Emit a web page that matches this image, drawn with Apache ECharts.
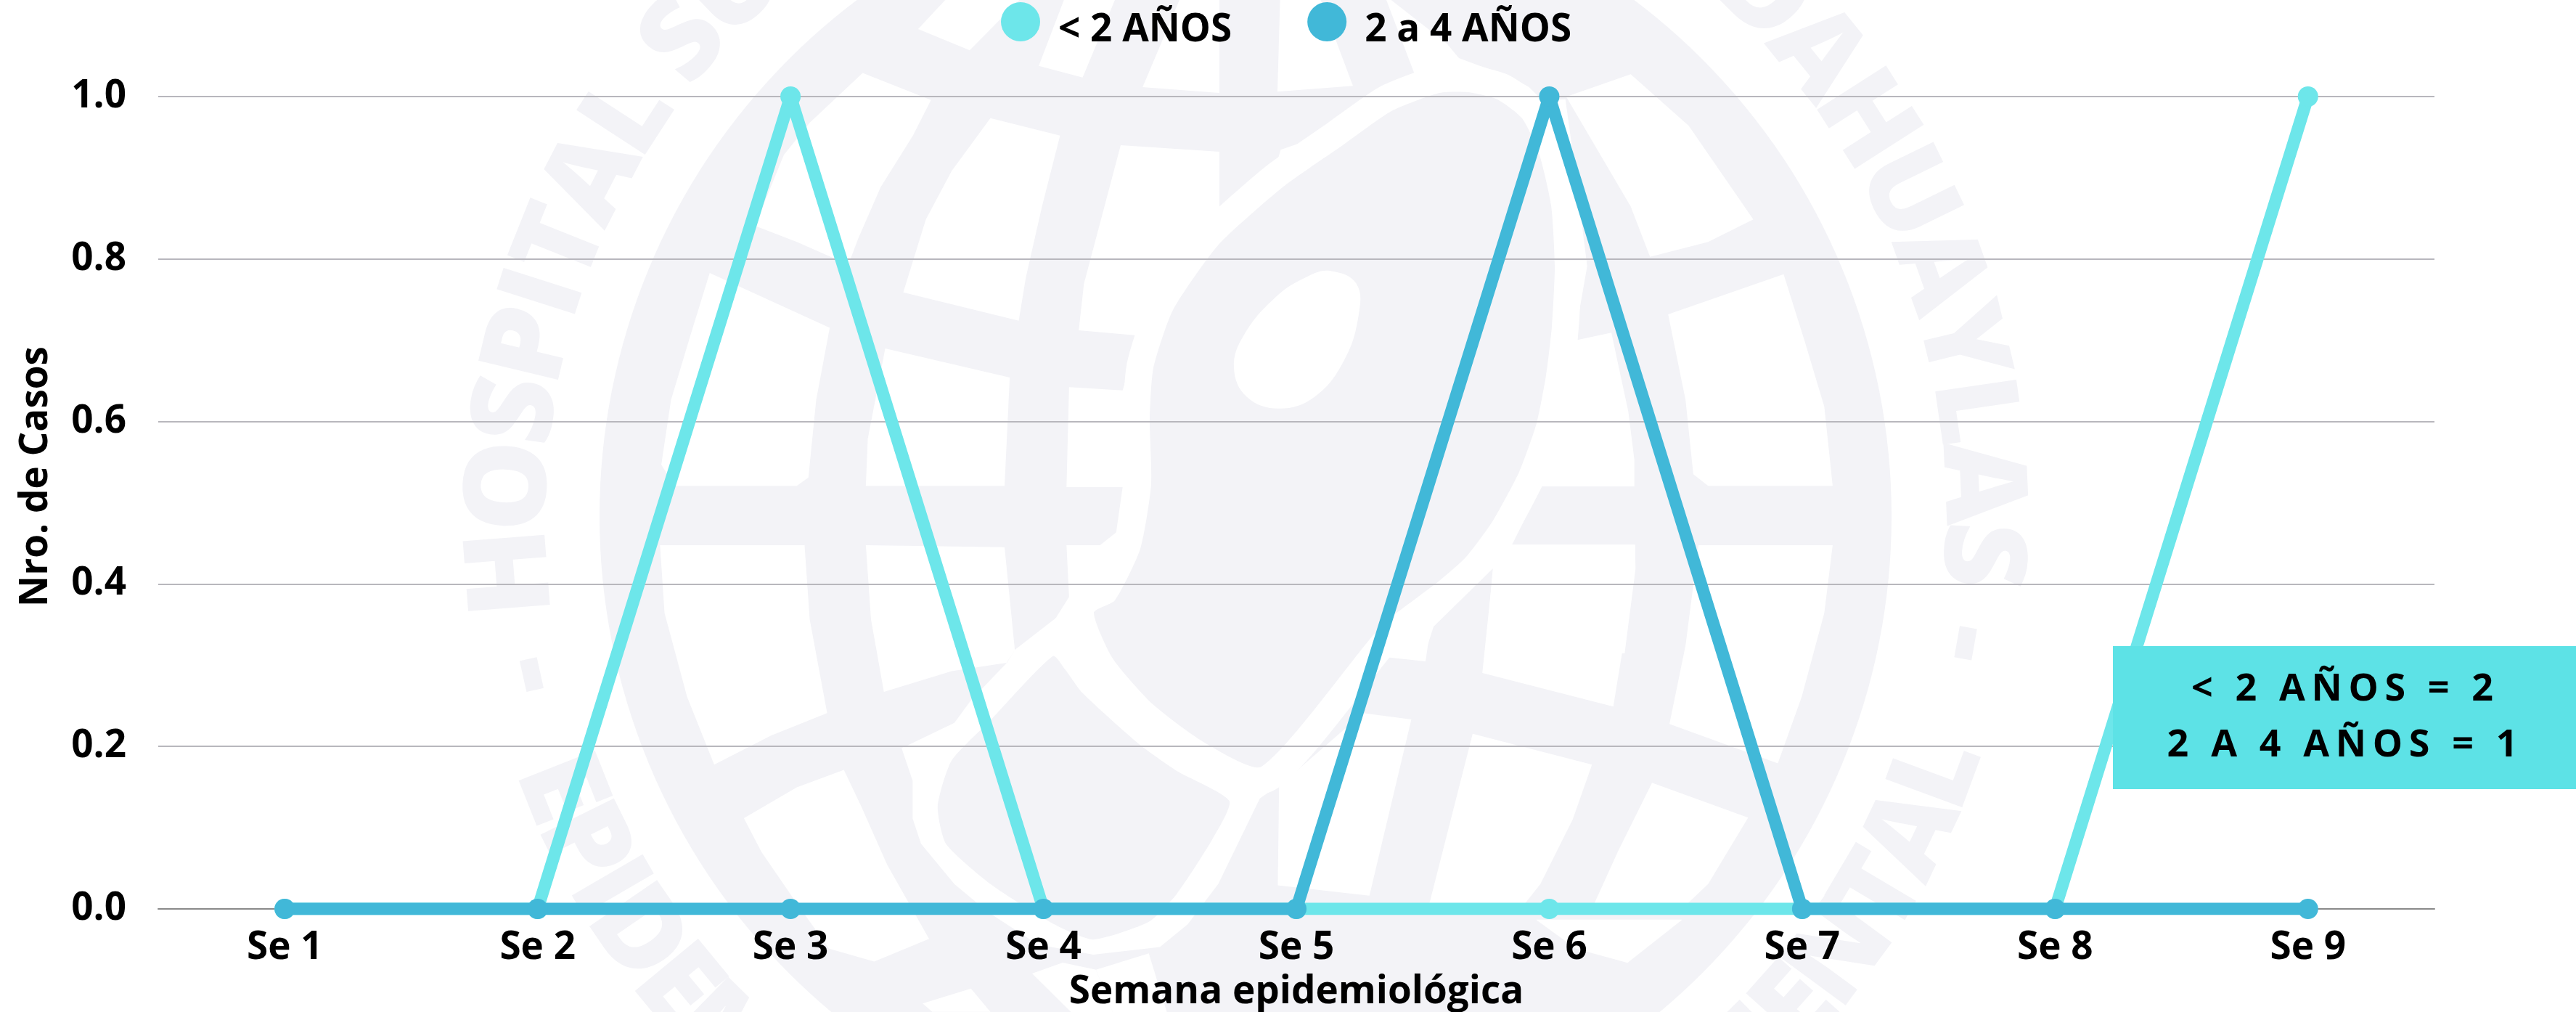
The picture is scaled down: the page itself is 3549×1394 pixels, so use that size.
<!DOCTYPE html>
<html><head><meta charset="utf-8">
<style>html,body{margin:0;padding:0;background:#fff}#c{width:3549px;height:1394px}</style>
<script src="https://cdn.jsdelivr.net/npm/echarts@6/dist/echarts.min.js"></script>
</head><body><div id="c"></div>
<script>
const weeks=['Se 1','Se 2','Se 3','Se 4','Se 5','Se 6','Se 7','Se 8','Se 9'];
const under2=[0,0,1,0,0,0,0,0,1];
const from2to4=[0,0,0,0,0,1,0,0,0];
const seriesNames=['< 2 AÑOS','2 a 4 AÑOS'];
const noteLines=['< 2 AÑOS = 2','2 A 4 AÑOS = 1'];
const wmTop='HOSPITAL SUB REGIONAL DE ANDAHUAYLAS';
const wmBottom='EPIDEMIOLOGIA Y SALUD ORIENTAL';
const FONT='"Open Sans"',GRAY='#f3f3f7';
const A=p=>p.map((v,i)=>i%2?v/1.125:600+v/1.125);
const B=p=>p.map((v,i)=>i%2?v/1.125:1500+v/1.125);
const Z1=p=>p.map((v,i)=>i%2?v/3:1850+v/3);
const Z2=p=>p.map((v,i)=>i%2?450+v/3:1900+v/3);
const Z3=p=>p.map((v,i)=>i%2?850+v/2.882:1200+v/2.613);
const pairs=p=>{const r=[];for(let i=0;i<p.length;i+=2)r.push([p[i],p[i+1]]);return r;};
const cells=[
A([748,45,828,78,905,0,790,0]),
A([935,102,1003,120,1053,0,974,0]),
A([1096,135,1215,144,1215,0,1153,0]),
A([1305,142,1422,133,1372,0,1309,0]),
A([662,113,768,155,740,210,690,290,655,370,640,410,560,375,495,350,540,240,580,190]),
A([860,183,968,210,940,320,915,430,904,497,725,453,760,340,800,265]),
A([1062,225,1215,235,1215,350,1260,310,1300,265,1310,232,1360,215,1430,165,1518,118,1560,125,1400,260,1150,540,1108,700,1108,755,978,755,982,600,1065,605,1090,520,997,512,1005,440]),
Z1([180,0,300,315,470,400,810,400,770,360,680,310,560,270,480,240,430,180,200,0]),
Z1([770,420,920,410,960,700,1010,1100,975,1300,970,1400,855,1500,875,1100,860,850,810,630]),
Z2([715,0,820,0,820,55,960,25,1030,350,1055,550,1055,660,670,660,550,900,1058,900,1060,1000,1015,1350,440,1350,470,1000,225,1240,190,1350,0,1350,0,1240,250,1040,470,790,650,390]),
A([425,423,611,508,590,620,578,740,560,753,370,753,350,720,365,620,395,520]),
A([697,540,890,585,882,753,667,753,670,680]),
A([348,845,572,845,580,960,607,1105,520,1140,432,1185,390,1080,355,950]),
A([667,845,882,848,898,1008,885,1027,800,1040,695,1072,675,960]),
A([898,1008,960,960,982,925,978,845,1030,845,1055,825,1065,755,1108,755,1100,850,1060,930,1020,950,1000,990,957,1017]),
Z3([490,180,360,330,300,420,130,510,110,520,150,650,150,800,180,900,300,1060,420,1170,600,1300,800,1340,1040,1310,1140,1220,1250,1060,1400,720,1465,670,1408,590,1290,600,1000,300,805,0,670,0,518,130]),
Z3([580,1415,690,1372,810,1400,870,1568,720,1568]),
Z3([810,1400,1000,1335,1065,1568,870,1568]),
A([633,1193,660,1250,700,1340,765,1455,680,1490,610,1470,560,1400,505,1320,478,1268,560,1220]),
A([755,1555,830,1532,860,1568,770,1568]),
B([295,1218,293,1372,435,1388,500,1115,425,1105]),
B([440,985,530,905,627,880,530,970,522,1025,458,1018]),
B([627,880,610,1043,813,1095,845,900,847,845,655,845]),
B([595,1137,780,1185,750,1270,700,1370,670,1408,528,1400]),
B([873,1213,1022,1267,960,1370,920,1408,780,1408,820,1320]),
B([693,1425,920,1425,835,1492,755,1470]),
B([898,487,1077,425,1110,530,1140,630,1153,753,960,753,937,735,925,620]),
B([945,845,1153,845,1140,950,1105,1080,1068,1183,900,1122,925,1000]),
B([840,115,930,195,1030,340,960,375,870,398,840,320,740,150])
];
const continent=[2023,127,2063,137,2097,163,2120,210,2137,283,2142,367,2138,450,2130,517,2117,583,2093,650,2057,717,2020,767,1983,800,1917,850,1891,876,1738,1056,1658,1022,1587,969,1533,907,1507,844,1536,827,1571,756,1586,667,1584,578,1589,507,1616,427,1678,338,1767,258,1850,200,1917,153,1983,128];
const southLand=Z3([655,155,700,210,760,300,960,500,1100,610,1290,730,1230,880,1100,1100,1000,1210,800,1280,660,1220,430,1060,270,900,240,750,290,570,430,410]);
const lake=B([375,420,415,440,418,490,395,560,350,615,295,633,245,615,225,570,240,520,290,460,340,428]);
const CX=1716,CY=711;
function arcText(text,from,to,inward,size,r){
  const m=document.createElement('canvas').getContext('2d');
  m.font=`800 ${size}px ${FONT}`;
  const adv=[...text].map(c=>m.measureText(c).width);
  const total=adv.reduce((a,b)=>a+b,0);
  let acc=0;const out=[];
  [...text].forEach((c,i)=>{
    const t=(acc+adv[i]/2)/total;acc+=adv[i];
    if(c===' ')return;
    const th=(from+(to-from)*t)*Math.PI/180;
    const x=CX+r*Math.sin(th),y=CY-r*Math.cos(th);
    if(y<-120||y>1500)return;
    out.push({type:'text',z:-20,silent:true,x,y,rotation:inward?-(th-Math.PI):-th,
      style:{text:c,fill:GRAY,font:`800 ${size}px ${FONT}`,align:'center',verticalAlign:'middle'}});
  });
  return out;
}
const poly=(points,z,extra)=>({type:'polygon',z,silent:true,shape:{points:pairs(points),smooth:extra&&extra.smooth||0},style:Object.assign({fill:'#fff'},extra&&extra.style)});
const spaced=s=>[...s].join('\u2009');
const watermark=[
 {type:'circle',z:-50,silent:true,shape:{cx:CX,cy:CY,r:890},style:{fill:GRAY}},
 ...cells.map(c=>poly(c,-40)),
 poly(continent,-38,{smooth:0.2,style:{fill:'#fff',stroke:'#fff',lineWidth:74,lineJoin:'round'}}),
 poly(southLand,-35,{smooth:0.2,style:{fill:GRAY}}),
 poly(continent,-30,{smooth:0.2,style:{fill:GRAY}}),
 poly(lake,-25,{smooth:0.4}),
 ...arcText(wmTop,-97.7,95.5,false,158,1010),
 ...arcText('-',-102.5,-102.5,false,158,1010),
 ...arcText('-',100,100,false,158,1010),
 ...arcText(wmBottom,-109.5,-252,true,158,1020)
];
const note=[
 {type:'rect',z:50,silent:true,shape:{x:2911,y:890,width:638,height:197},style:{fill:'#5de2e6'}},
 {type:'text',z:51,silent:true,x:3227,y:950,style:{text:spaced(noteLines[0]),fill:'#000',font:`bold 52px ${FONT}`,align:'center',verticalAlign:'middle'}},
 {type:'text',z:51,silent:true,x:3227,y:1027,style:{text:spaced(noteLines[1]),fill:'#000',font:`bold 52px ${FONT}`,align:'center',verticalAlign:'middle'}}
];
const txt={color:'#000',fontFamily:FONT,fontWeight:'bold',fontSize:53};
const chart=echarts.init(document.getElementById('c'),null,{renderer:'canvas'});
chart.setOption({
 animation:false,backgroundColor:'#fff',
 graphic:{elements:[...watermark,...note]},
 grid:{left:218,right:195,top:133,bottom:142,containLabel:false,outerBoundsMode:'none'},
 legend:{left:1374,top:-2,itemWidth:54,itemHeight:54,itemGap:104,icon:'circle',
   data:seriesNames,formatter:'{t|{name}}',
   textStyle:Object.assign({},txt,{padding:[0,0,0,20],rich:{t:Object.assign({},txt,{lineHeight:76,height:53,verticalAlign:'bottom'})}})},
 xAxis:{type:'category',data:weeks,boundaryGap:true,name:'Semana epidemiológica',nameLocation:'middle',nameGap:88,
   nameTextStyle:txt,axisTick:{show:false},axisLabel:Object.assign({},txt,{margin:27}),
   axisLine:{lineStyle:{color:'#8a8a8a',width:2}}},
 yAxis:{type:'value',min:0,max:1,interval:0.2,name:'Nro. de Casos',nameLocation:'middle',nameGap:142,
   nameTextStyle:Object.assign({},txt,{padding:[0,0,0,72]}),axisLabel:Object.assign({},txt,{margin:44,formatter:v=>v.toFixed(1)}),
   axisLine:{show:false},axisTick:{show:false},splitLine:{lineStyle:{color:'#b8b7bd',width:2}}},
 series:[
  {name:seriesNames[0],type:'line',data:under2,symbol:'circle',symbolSize:28,z:3,
   lineStyle:{color:'#6de6ea',width:17},itemStyle:{color:'#6de6ea'}},
  {name:seriesNames[1],type:'line',data:from2to4,symbol:'circle',symbolSize:28,z:4,
   lineStyle:{color:'#41b8d8',width:17},itemStyle:{color:'#41b8d8'}}
 ]
});
</script></body></html>
